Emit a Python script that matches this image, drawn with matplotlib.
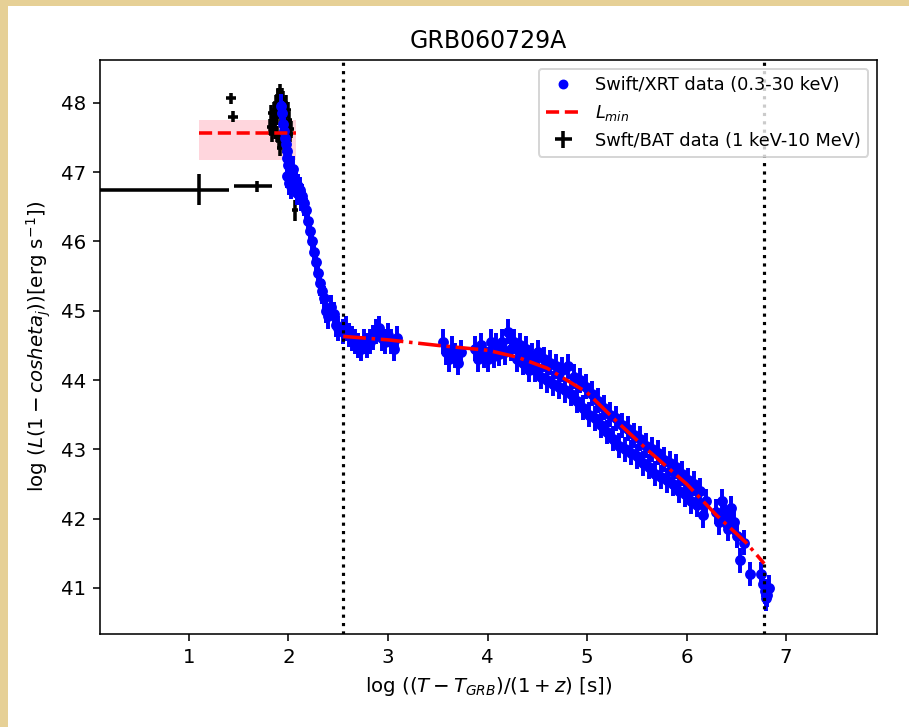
import matplotlib
matplotlib.use("Agg")
import matplotlib.pyplot as plt
from matplotlib.lines import Line2D
from matplotlib.patches import Rectangle

# ---------------- data ----------------
title = "GRB060729A"

# Swift/XRT data (log time, log L)
xrt_x = [1.92, 1.93, 1.94, 1.95, 1.96, 1.97, 1.98, 1.99, 2.00, 2.02, 2.04, 2.06, 2.08,
         2.10, 2.12, 2.14, 2.16, 2.18, 2.20, 2.22, 2.24, 2.26, 2.28, 2.30, 2.32, 2.34,
         2.36, 2.38, 2.40, 2.43, 2.46, 2.48, 2.50,
         1.99, 2.01, 2.03, 2.05, 2.09, 2.13,
         2.55, 2.58, 2.61, 2.64, 2.67, 2.70, 2.73, 2.76, 2.79, 2.82, 2.85, 2.88, 2.91,
         2.94, 2.97, 3.00, 3.03, 3.06, 3.09,
         3.55, 3.58, 3.61, 3.64, 3.67, 3.70, 3.73,
         3.87, 3.90, 3.93, 3.96,
         4.00, 4.03, 4.06, 4.09, 4.12, 4.15, 4.18, 4.21, 4.24, 4.27, 4.30, 4.33, 4.36,
         4.39, 4.42, 4.45, 4.48, 4.51, 4.54, 4.57, 4.60, 4.63, 4.66, 4.69, 4.72, 4.75,
         4.78, 4.81, 4.84, 4.87, 4.90, 4.93, 4.96, 4.99, 5.02, 5.05, 5.08, 5.11, 5.14,
         5.17, 5.20, 5.23, 5.26, 5.29, 5.32, 5.35, 5.38, 5.41, 5.44, 5.47, 5.50, 5.53,
         5.56, 5.59, 5.62, 5.65, 5.68, 5.71, 5.74, 5.77, 5.80, 5.83, 5.86, 5.89, 5.92,
         5.95, 5.98, 6.01, 6.04, 6.07, 6.10, 6.13, 6.16, 6.19,
         6.30, 6.33, 6.36, 6.39, 6.42, 6.45, 6.48, 6.51, 6.54, 6.58, 6.64, 6.75, 6.77,
         6.79, 6.81, 6.83, 6.80]
xrt_y = [47.95, 47.85, 47.70, 47.60, 47.50, 47.40, 47.30, 47.20, 47.10, 47.00, 46.95, 46.90, 46.85,
         46.80, 46.75, 46.65, 46.55, 46.45, 46.30, 46.15, 46.00, 45.85, 45.70, 45.55, 45.40, 45.28,
         45.18, 45.00, 44.92, 45.05, 44.95, 44.80, 44.75,
         46.95, 46.85, 46.80, 47.05, 46.70, 46.62,
         44.70, 44.75, 44.65, 44.60, 44.55, 44.50, 44.45, 44.55, 44.50, 44.55, 44.62, 44.70, 44.75,
         44.60, 44.55, 44.65, 44.55, 44.45, 44.60,
         44.55, 44.40, 44.30, 44.45, 44.35, 44.25, 44.40,
         44.45, 44.30, 44.50, 44.35,
         44.30, 44.55, 44.35, 44.50, 44.38, 44.55, 44.40, 44.70, 44.45, 44.55, 44.30, 44.50, 44.25,
         44.45, 44.15, 44.35, 44.15, 44.40, 44.05, 44.30, 44.00, 44.25, 43.95, 44.20, 43.90, 44.15,
         43.85, 44.20, 43.80, 44.05, 43.70, 44.00, 43.60, 43.90, 43.50, 43.80, 43.45, 43.70, 43.35,
         43.60, 43.25, 43.50, 43.15, 43.45, 43.05, 43.35, 43.00, 43.30, 42.95, 43.20, 42.90, 43.15,
         42.80, 43.05, 42.75, 43.00, 42.65, 42.95, 42.60, 42.85, 42.55, 42.80, 42.50, 42.75, 42.40,
         42.65, 42.35, 42.55, 42.25, 42.50, 42.20, 42.40, 42.05, 42.25,
         42.10, 41.95, 42.25, 42.05, 41.85, 42.15, 41.95, 41.75, 41.40, 41.65, 41.20, 41.20, 41.05,
         40.95, 40.90, 41.00, 40.85]
xrt_yerr = 0.18
xrt_xerr = 0.015

# Swift/BAT data
bat_x = [1.84, 1.85, 1.86, 1.87, 1.88, 1.89, 1.90, 1.91, 1.92, 1.93, 1.94, 1.95, 1.96,
         1.97, 1.98, 1.99, 1.86, 1.88, 1.90, 1.92, 1.94, 1.96, 1.98, 1.89, 1.93,
         1.83, 1.91, 1.95, 2.00, 1.81, 1.82, 2.01, 2.02, 2.03, 1.97, 2.00,
         1.42, 1.44, 1.10, 1.68, 2.07]
bat_y = [47.70, 47.90, 47.60, 48.00, 47.80, 48.10, 47.90, 48.15, 48.00, 48.10, 47.85, 47.95, 47.70,
         47.60, 47.50, 47.65, 47.75, 47.55, 47.45, 47.85, 48.05, 47.80, 47.42, 48.08, 47.50,
         47.55, 47.35, 47.40, 47.60, 47.65, 47.85, 47.75, 47.55, 47.62, 48.00, 47.90,
         48.07, 47.80, 46.75, 46.80, 46.45]
bat_xerr_lo = [0.025] * 36 + [0.05, 0.05, 1.10, 0.23, 0.03]
bat_xerr_hi = [0.025] * 36 + [0.05, 0.05, 0.30, 0.15, 0.03]
bat_yerr = [0.12] * 36 + [0.08, 0.08, 0.22, 0.08, 0.15]

# L_min plateau and its uncertainty band
lmin_x = [1.10, 2.08]
lmin_y = 47.57
lmin_lo, lmin_hi = 47.18, 47.75

# fitted model curve (dash-dot)
model_x = [2.55, 3.0, 3.5, 4.0, 4.3, 4.6, 5.0, 5.3, 5.6, 6.0, 6.3, 6.6, 6.78]
model_y = [44.63, 44.58, 44.50, 44.43, 44.33, 44.17, 43.82, 43.40, 43.00, 42.50, 42.05, 41.65, 41.35]

# vertical markers
vlines_x = [2.55, 6.78]

xticks = [1, 2, 3, 4, 5, 6, 7]
yticks = [41, 42, 43, 44, 45, 46, 47, 48]

# ---------------- figure ----------------
fig = plt.figure(figsize=(909 / 142, 727 / 142), dpi=142)
fig.patch.set_facecolor("#e6d096")
fig.patches.append(Rectangle((8 / 909, 0), 1, 1 - 6 / 727, transform=fig.transFigure,
                             facecolor="white", edgecolor="none", zorder=-10))

ax = fig.add_axes([0.110, 0.128, 0.855, 0.7895])

ax.fill_between(lmin_x, lmin_lo, lmin_hi, color="pink", alpha=0.65, linewidth=0, zorder=1)

bat = ax.errorbar(bat_x, bat_y, xerr=[bat_xerr_lo, bat_xerr_hi], yerr=bat_yerr,
                  fmt="none", ecolor="black", elinewidth=1.8, capsize=0, zorder=2)

ax.errorbar(xrt_x, xrt_y, xerr=xrt_xerr, yerr=xrt_yerr, fmt="o", color="blue",
            ms=4.5, elinewidth=2.0, capsize=0, zorder=3)

ax.plot(lmin_x, [lmin_y, lmin_y], "--", color="red", lw=1.8, zorder=5)
ax.plot(model_x, model_y, "-.", color="red", lw=1.8, zorder=5)

for xv in vlines_x:
    ax.axvline(xv, color="black", ls=":", lw=1.6, zorder=4)

ax.set_xlim(0.106, 7.915)
ax.set_ylim(40.335, 48.62)
ax.set_xticks(xticks)
ax.set_yticks(yticks)

ax.set_title(title)
ax.set_xlabel(r"log $((T - T_{GRB})/(1 + z)$ [s])")
ax.set_ylabel(r"log $(L(1 - cosheta_j))$[erg s$^{-1}$])")

h_xrt = Line2D([], [], marker="o", color="blue", ls="none", ms=4)
h_lmin = Line2D([], [], color="red", ls="--", lw=1.8)
ax.legend([h_xrt, h_lmin, bat],
          ["Swift/XRT data (0.3-30 keV)", r"$L_{min}$", "Swft/BAT data (1 keV-10 MeV)"],
          loc="upper right", fontsize=9)

fig.savefig("out.png", dpi=142, facecolor=fig.get_facecolor())
